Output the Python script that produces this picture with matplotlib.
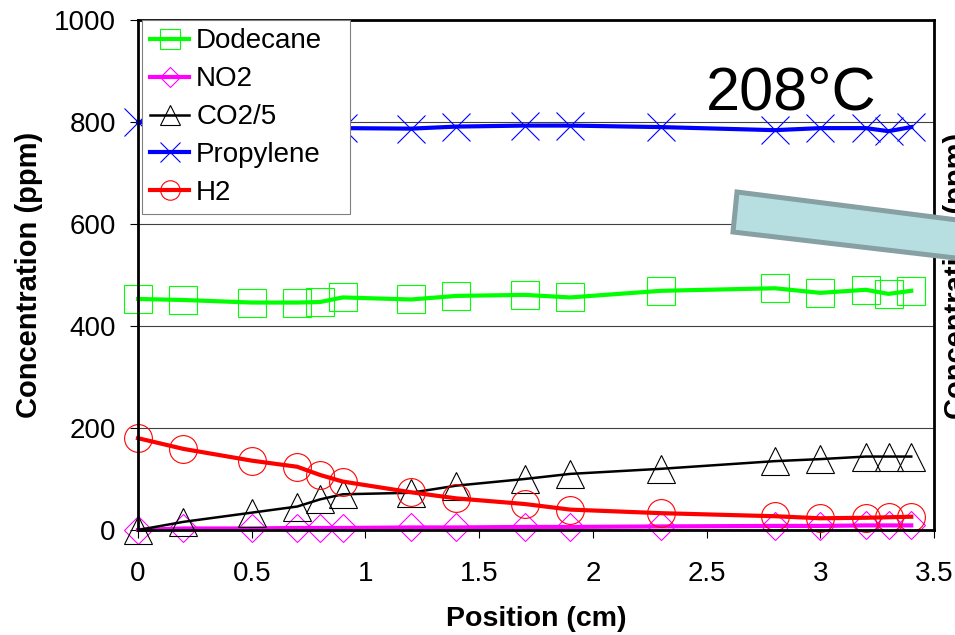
import matplotlib
matplotlib.use("Agg")
import matplotlib.pyplot as plt
from matplotlib.patches import Polygon
from matplotlib.ticker import FuncFormatter, MultipleLocator

plt.rcParams['font.family'] = ['Liberation Sans', 'DejaVu Sans']

# positions along the catalyst (cm)
position = [0, 0.2, 0.5, 0.7, 0.8, 0.9, 1.2, 1.4, 1.7, 1.9, 2.3, 2.8, 3.0, 3.2, 3.3, 3.4]

dodecane = [453, 451, 446, 446, 447, 456, 452, 459, 461, 456, 469, 474, 465, 471, 463, 469]
no2 = [0, 3, 3, 4, 4, 4, 5, 5, 6, 6, 7, 8, 8, 9, 9, 9]
co2_5 = [0, 16, 34, 46, 60, 70, 73, 87, 100, 110, 120, 135, 139, 144, 144, 144]
propylene = [800, 796, 793, 791, 790, 788, 787, 791, 793, 793, 790, 784, 788, 788, 782, 790]
h2 = [180, 159, 136, 124, 108, 95, 74, 62, 51, 40, 33, 27, 23, 24, 25, 26]

series = [
    ("Dodecane", dodecane, "#00ff00", "s", 20, 3.0),
    ("NO2", no2, "#ff00ff", "D", 14, 3.0),
    ("CO2/5", co2_5, "black", "^", 20, 1.8),
    ("Propylene", propylene, "#0000ff", "x", 20, 3.0),
    ("H2", h2, "#ff0000", "o", 20, 3.0),
]

W, H = 955, 635
fig = plt.figure(figsize=(W / 100, H / 100), dpi=100)
ax = fig.add_axes([138 / W, 1 - 530 / H, (934 - 138) / W, (530 - 20) / H])

for name, vals, col, mk, ms, lw in series:
    ax.plot(position, vals, color=col, lw=lw, marker=mk, ms=ms,
            mfc='none', mec=col, mew=0.8, label=name, clip_on=False)

ax.set_xlim(0, 3.5)
ax.set_ylim(0, 1000)
ax.xaxis.set_major_locator(MultipleLocator(0.5))
ax.yaxis.set_major_locator(MultipleLocator(200))
ax.xaxis.set_major_formatter(FuncFormatter(lambda v, p: f"{v:g}"))
ax.grid(axis='y', color='#404040', lw=0.8)
ax.set_axisbelow(True)

for s in ax.spines.values():
    s.set_linewidth(2.0)
ax.tick_params(axis='both', direction='out', length=6, width=0.8, labelsize=20)
ax.tick_params(axis='x', pad=16)
ax.tick_params(axis='y', pad=10)

ax.set_xlabel("Position (cm)", fontsize=20.5, fontweight='bold', labelpad=14)
ax.set_ylabel("Concentration (ppm)", fontsize=21, fontweight='bold', labelpad=8)

leg = ax.legend(loc='upper left', bbox_to_anchor=(0.005, 0.62, 0.261, 0.38),
                mode='expand', fontsize=20, markerscale=0.7, handlelength=1.4,
                handletextpad=0.25, labelspacing=0.43, borderpad=0.3,
                borderaxespad=0, fancybox=False, framealpha=1,
                edgecolor='#808080')
leg.get_frame().set_linewidth(0.8)

ax.text(706 / W, 1 - 110 / H, "208°C", transform=fig.transFigure,
        fontsize=44, ha='left', va='baseline')

# label of the neighbouring panel, cut by the right edge
fig.text(943 / W, 1 - 276 / H, "Concentration (ppm)", rotation=90,
         fontsize=21, fontweight='bold', ha='left', va='center', zorder=1)

# tilted callout bar lying over it
band = [(737, 192), (1000, 225.4), (1000, 263.2), (733, 232)]
band = [(x / W, 1 - y / H) for x, y in band]
fig.patches.append(Polygon(band, closed=True, transform=fig.transFigure,
                           facecolor='#b7dfe2', edgecolor='#87a0a3',
                           lw=3.6, zorder=5))

fig.savefig("out.png", dpi=100)
